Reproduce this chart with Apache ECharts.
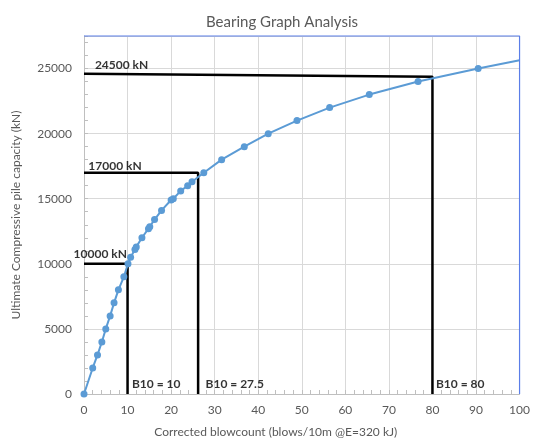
<!DOCTYPE html>
<html>
<head>
<meta charset="utf-8">
<script src="https://cdn.jsdelivr.net/npm/echarts@6/dist/echarts.min.js"></script>
<style>html,body{margin:0;padding:0;background:#fff;}#c{width:533px;height:443px;}</style>
</head>
<body>
<div id="c"></div>
<script>
var blowcount = [0, 2, 3.1, 4.1, 5, 6, 6.9, 7.9, 9.15, 10.1, 10.7, 11.7, 12, 13.3, 14.8, 15.1, 16.2, 17.8, 20, 20.5, 22.2, 23.8, 24.8, 27.5, 31.6, 36.8, 42.3, 48.9, 56.4, 65.5, 76.7, 90.5];
var capacity  = [0, 2000, 3000, 4000, 5000, 6000, 7000, 8000, 9000, 10000, 10500, 11100, 11300, 12000, 12700, 12850, 13400, 14100, 14900, 15000, 15600, 16000, 16300, 17000, 18000, 19000, 20000, 21000, 22000, 23000, 24000, 25000];
var curveEnd = [100, 25630];

var guide10000 = [[0, 10000], [10, 10000], [10, 0]];
var guide17000 = [[0, 17000], [26.2, 17000], [26.2, 0]];
var guide24500 = [[0, 24600], [80, 24370], [80, 0]];

var frameLine = [[0, 27500], [100, 27500], [100, 0]];

var labelTexts = ['24500 kN', '17000 kN', '10000 kN', 'B10 = 10', 'B10 = 27.5', 'B10 = 80'];
var labelX = [2.5, 1.0, -2.4, 11.0, 27.9, 80.8];
var labelY = [25250, 17500, 10780, 780, 780, 780];

var mainData = blowcount.map(function (x, i) { return [x, capacity[i]]; });
mainData.push({ value: curveEnd, symbol: 'none' });
var labelData = labelTexts.map(function (t, i) { return [labelX[i], labelY[i], t]; });

var font = 'Lato, "Open Sans", sans-serif';
var gray = '#595959';
var frameBlue = '#5a7ee8';

function guide(d) {
  return { type: 'line', data: d, symbol: 'none', z: 3, silent: true,
    lineStyle: { color: '#000', width: 2.5 }, clip: false };
}

var chart = echarts.init(document.getElementById('c'));
chart.setOption({
  animation: false,
  backgroundColor: '#fff',
  textStyle: { fontFamily: font },
  title: { text: 'Bearing Graph Analysis', left: 277, top: 10, textAlign: 'center',
    textStyle: { fontFamily: font, fontSize: 15, fontWeight: 'normal', color: gray } },
  grid: { left: 84, right: 12, top: 36, bottom: 45 },
  xAxis: {
    type: 'value', min: 0, max: 100, interval: 10,
    name: 'Corrected blowcount (blows/10m @E=320 kJ)', nameLocation: 'middle', nameGap: 32,
    nameTextStyle: { fontFamily: font, fontSize: 12, color: gray, padding: [0, 52, 0, 0] },
    axisLine: { lineStyle: { color: '#bfbfbf', width: 1 } },
    axisTick: { show: true, inside: true, length: 4, lineStyle: { color: '#bfbfbf' } },
    minorTick: { show: true, splitNumber: 5, length: 4, lineStyle: { color: '#bfbfbf' } },
    axisLabel: { fontFamily: font, fontSize: 12, color: gray, margin: 10 },
    splitLine: { show: true, lineStyle: { color: '#d9d9d9', width: 1 } }
  },
  yAxis: {
    type: 'value', min: 0, max: 27500, interval: 5000,
    name: 'Ultimate Compressive pile capacity (kN)', nameLocation: 'middle', nameGap: 62,
    nameTextStyle: { fontFamily: font, fontSize: 12, color: gray },
    axisLine: { show: true, lineStyle: { color: '#bfbfbf', width: 1 } },
    axisTick: { show: true, inside: true, length: 4, lineStyle: { color: '#bfbfbf' } },
    minorTick: { show: true, splitNumber: 5, length: 4, lineStyle: { color: '#bfbfbf' } },
    axisLabel: { fontFamily: font, fontSize: 12, color: gray, margin: 12, showMaxLabel: false,
      formatter: function (v) { return String(v); } },
    splitLine: { show: true, lineStyle: { color: '#d9d9d9', width: 1 } }
  },
  series: [
    { type: 'line', data: frameLine, symbol: 'none', z: 10, silent: true, clip: false,
      lineStyle: { color: frameBlue, width: 1.2 } },
    guide(guide10000),
    guide(guide17000),
    guide(guide24500),
    {
      type: 'line', data: mainData, symbol: 'circle', symbolSize: 7, z: 5,
      lineStyle: { color: '#5b9bd5', width: 2 },
      itemStyle: { color: '#5b9bd5' }
    },
    {
      type: 'scatter', data: labelData, symbolSize: 0, z: 6, clip: false, silent: true,
      label: { show: true, position: 'right', distance: 0,
        formatter: function (p) { return p.value[2]; },
        fontFamily: font, fontSize: 12, fontWeight: 'bold', color: '#000' }
    }
  ]
});
</script>
</body>
</html>
